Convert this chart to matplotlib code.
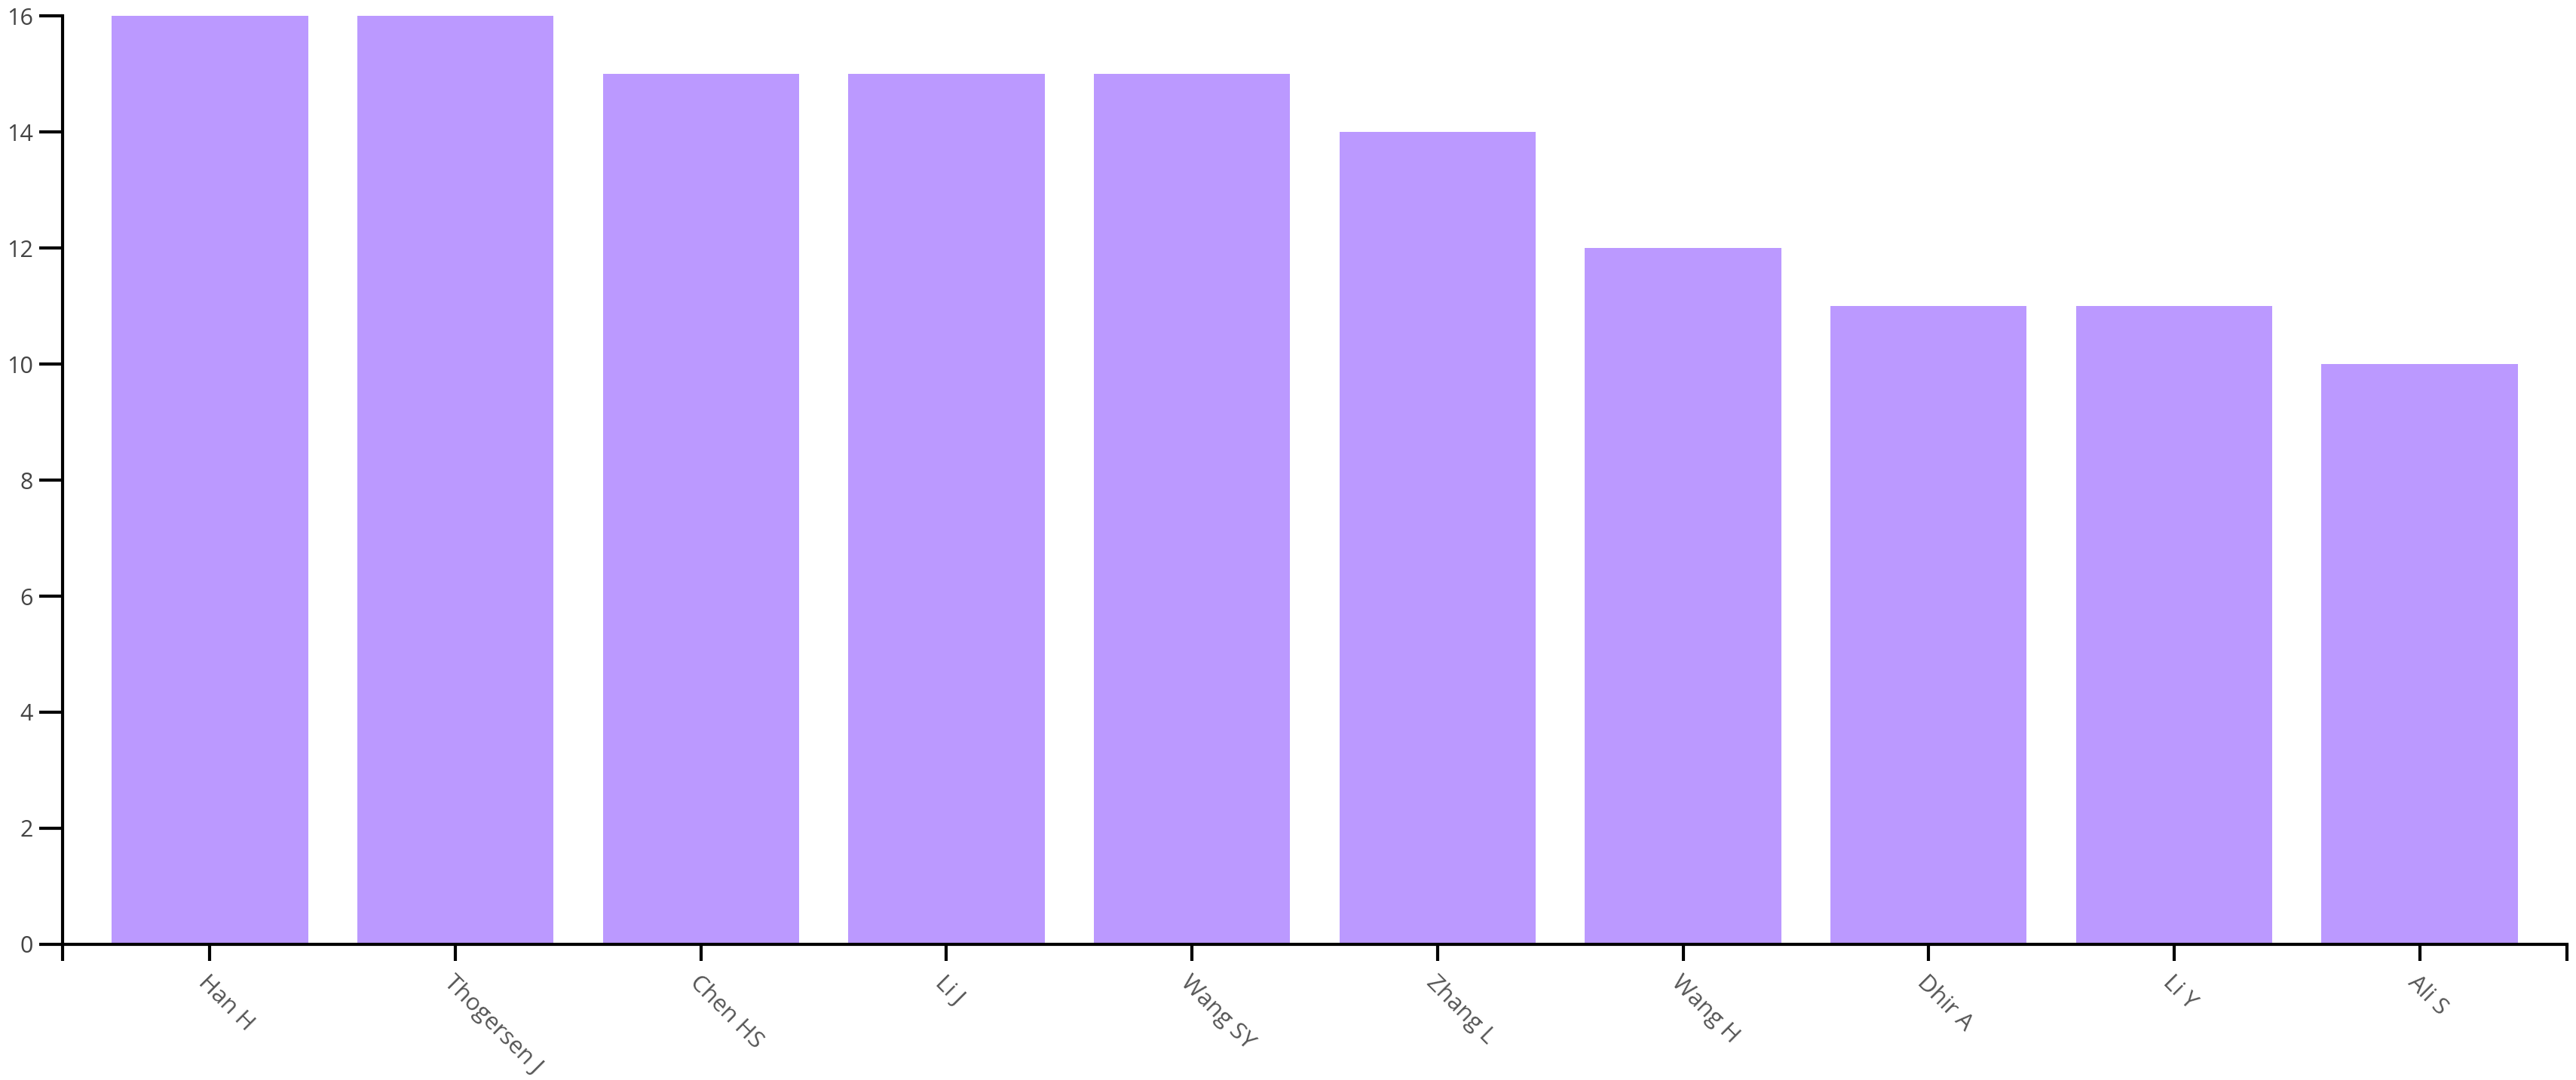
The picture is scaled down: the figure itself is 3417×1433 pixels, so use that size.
import matplotlib.pyplot as plt
import matplotlib.transforms as mtransforms
import numpy as np

# autores y numero de publicaciones
autores = ['Han H', 'Thogersen J', 'Chen HS', 'Li J', 'Wang SY',
           'Zhang L', 'Wang H', 'Dhir A', 'Li Y', 'Ali S']
publicaciones = [16, 16, 15, 15, 15, 14, 12, 11, 11, 10]
ticks_y = [0, 2, 4, 6, 8, 10, 12, 14, 16]

plt.rcParams['font.family'] = ['Open Sans', 'DejaVu Sans']

fig = plt.figure(figsize=(34.17, 14.33), dpi=100)
ax = fig.add_axes([83/3417, 180/1433, (3405-83)/3417, (1253-21)/1433])

x = np.arange(len(autores))
ax.bar(x, publicaciones, width=0.8, color='#bb99ff', zorder=1)

ax.set_xlim(-0.6, len(autores) - 0.4)
ax.set_ylim(0, 16)
ax.set_yticks(ticks_y)
ax.set_xticks(x)
ax.set_xticklabels(autores, rotation=-45, ha='left', va='top',
                   rotation_mode='anchor', color='#555555', fontsize=22.5)
# desplazar un poco las etiquetas a la izquierda
desplaza = mtransforms.ScaledTranslation(-14/100, 0, fig.dpi_scale_trans)
for lab in ax.get_xticklabels():
    lab.set_transform(lab.get_transform() + desplaza)
# ticks exteriores en los extremos del eje x
ax.set_xticks([-0.6, len(autores) - 0.4], minor=True)
ax.tick_params(axis='x', which='both', length=16, width=3, color='black', pad=10)
ax.tick_params(axis='y', length=22, width=3, color='black', labelsize=22,
               labelcolor='#444444', pad=6)

for s in ['top', 'right']:
    ax.spines[s].set_visible(False)
for s in ['left', 'bottom']:
    ax.spines[s].set_linewidth(3)
    ax.spines[s].set_zorder(3)

plt.savefig('out.png', dpi=100)
